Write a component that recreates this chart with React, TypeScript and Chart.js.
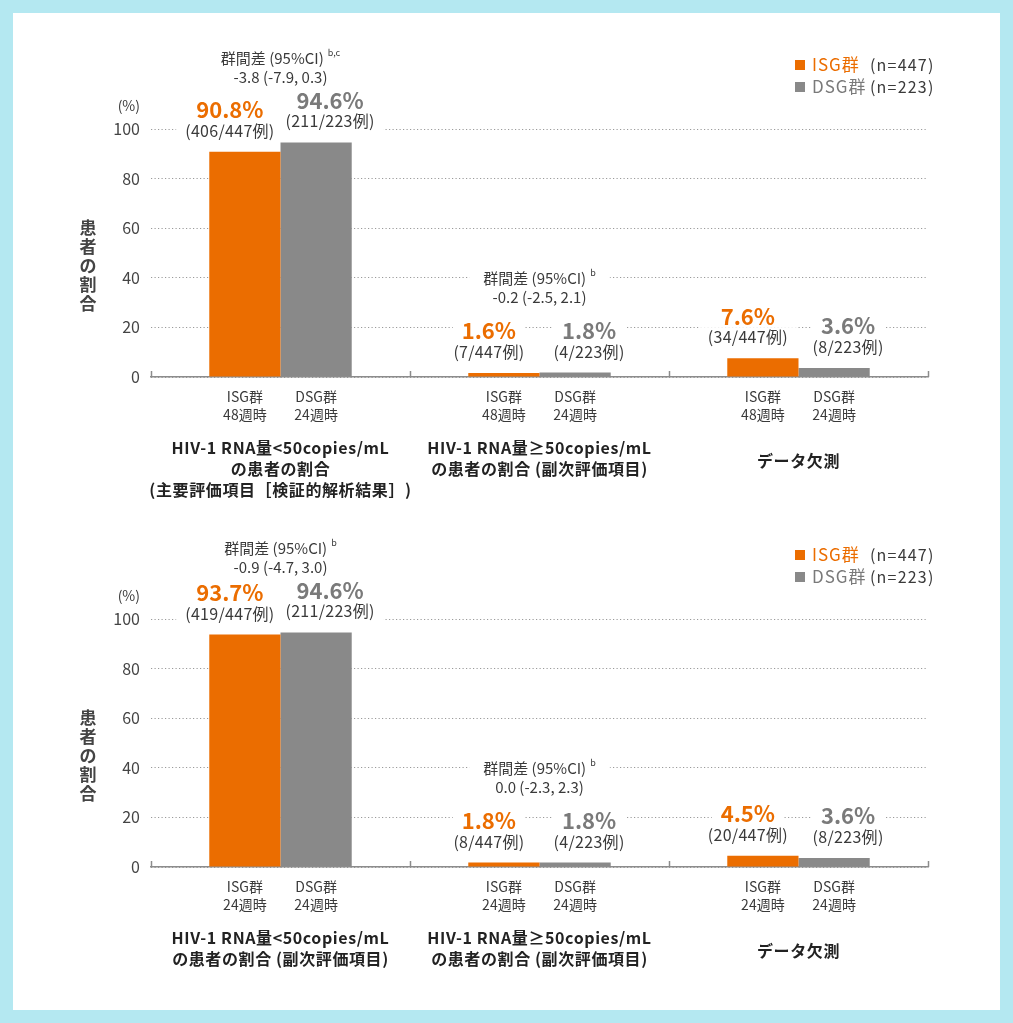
import React, { useEffect, useRef } from 'react';
import { Chart, registerables } from 'chart.js';

Chart.register(...registerables);

// ---------- data ----------
const seriesNames = ['ISG群', 'DSG群'];
const seriesN = ['(n=447)', '(n=223)'];
const yTicks = [0, 20, 40, 60, 80, 100];
const yTitle = '患者の割合';
const yUnit = '(%)';
const diffHeading = '群間差 (95%CI)';

// chart 1
const groups1 = [
  ['HIV-1 RNA量<50copies/mL', 'の患者の割合', '(主要評価項目［検証的解析結果］)'],
  ['HIV-1 RNA量≥50copies/mL', 'の患者の割合 (副次評価項目)'],
  ['データ欠測'],
];
const isg1 = [90.8, 1.6, 7.6];
const dsg1 = [94.6, 1.8, 3.6];
const isgCounts1 = ['(406/447例)', '(7/447例)', '(34/447例)'];
const dsgCounts1 = ['(211/223例)', '(4/223例)', '(8/223例)'];
const diffValues1 = ['-3.8 (-7.9, 0.3)', '-0.2 (-2.5, 2.1)', ''];
const diffSup1 = ['b,c', 'b', ''];
const isgSub1 = ['ISG群', '48週時'];
const dsgSub1 = ['DSG群', '24週時'];

// chart 2
const groups2 = [
  ['HIV-1 RNA量<50copies/mL', 'の患者の割合 (副次評価項目)'],
  ['HIV-1 RNA量≥50copies/mL', 'の患者の割合 (副次評価項目)'],
  ['データ欠測'],
];
const isg2 = [93.7, 1.8, 4.5];
const dsg2 = [94.6, 1.8, 3.6];
const isgCounts2 = ['(419/447例)', '(8/447例)', '(20/447例)'];
const dsgCounts2 = ['(211/223例)', '(4/223例)', '(8/223例)'];
const diffValues2 = ['-0.9 (-4.7, 3.0)', '0.0 (-2.3, 2.3)', ''];
const diffSup2 = ['b', 'b', ''];
const isgSub2 = ['ISG群', '24週時'];
const dsgSub2 = ['DSG群', '24週時'];

// ---------- styles ----------
const FONT = '"Noto Sans CJK JP", "Noto Sans", sans-serif';
const ORANGE = '#eb6d00';
const GRAY = '#898989';
const GRAY_TEXT = '#7a7a7a';
const TEXT = '#3a3a3a';
const AXIS = '#8c8c8c';
const W = 987;
const H = 490;

type BlockProps = {
  groups: string[][];
  isg: number[];
  dsg: number[];
  isgCounts: string[];
  dsgCounts: string[];
  diffValues: string[];
  diffSup: string[];
  isgSub: string[];
  dsgSub: string[];
};

type Item = { s: string; x: number; y: number; font: string; color: string; align: CanvasTextAlign; bg: boolean; ls: number };

function setFont(ctx: CanvasRenderingContext2D, font: string, ls: number) {
  ctx.font = font;
  (ctx as any).letterSpacing = ls + 'px';
}

function ChartBlock(p: BlockProps) {
  const ref = useRef<HTMLCanvasElement | null>(null);
  useEffect(() => {
    const decor = {
      id: 'decor',
      afterDatasetsDraw(chart: any) {
        const ctx: CanvasRenderingContext2D = chart.ctx;
        const area = chart.chartArea;
        const xs = chart.scales.x;
        const m0 = chart.getDatasetMeta(0).data;
        const m1 = chart.getDatasetMeta(1).data;
        const items: Item[] = [];
        const rects: number[][] = [];
        const add = (s: string, x: number, y: number, font: string, color: string, align: CanvasTextAlign = 'center', bg = false, ls = 0) =>
          items.push({ s, x, y, font, color, align, bg, ls });
        ctx.save();
        // category boundary ticks (upward)
        ctx.strokeStyle = AXIS;
        ctx.lineWidth = 1.5;
        const n = p.groups.length;
        for (let i = 0; i <= n; i++) {
          const x = Math.round(xs.left + (i * (xs.right - xs.left)) / n) + 0.5;
          ctx.beginPath();
          ctx.moveTo(x, area.bottom);
          ctx.lineTo(x, area.bottom - 6);
          ctx.stroke();
        }
        for (let i = 0; i < n; i++) {
          const b0 = m0[i];
          const b1 = m1[i];
          const x0 = b0.x - 15;
          const x1 = b1.x + 14;
          add(p.isg[i].toFixed(1) + '%', x0, b0.y - 42, `bold 22px ${FONT}`, ORANGE, 'center', true);
          add(p.isgCounts[i], x0, b0.y - 21, `16px ${FONT}`, TEXT, 'center', true, 0.3);
          add(p.dsg[i].toFixed(1) + '%', x1, b1.y - 42, `bold 22px ${FONT}`, GRAY_TEXT, 'center', true);
          add(p.dsgCounts[i], x1, b1.y - 21, `16px ${FONT}`, TEXT, 'center', true, 0.3);
          if (p.diffValues[i]) {
            const cx = (b0.x + b1.x) / 2;
            const mx = Math.max(p.isg[i], p.dsg[i]);
            const top = Math.min(b0.y, b1.y);
            const vy = top - (mx > 50 ? 65 : 75);
            const hy = vy - 19;
            setFont(ctx, `15px ${FONT}`, 0);
            const wMain = ctx.measureText(diffHeading).width;
            setFont(ctx, `9px ${FONT}`, 0);
            const wSup = ctx.measureText(p.diffSup[i]).width;
            const total = wMain + 4 + wSup;
            const left = cx - total / 2;
            rects.push([left - 14, hy - 10, total + 28, 20]);
            add(diffHeading, left, hy, `15px ${FONT}`, TEXT, 'left');
            add(p.diffSup[i], left + wMain + 4, hy - 6, `9px ${FONT}`, TEXT, 'left');
            add(p.diffValues[i], cx, vy, `15px ${FONT}`, TEXT, 'center', true);
          }
          add(p.isgSub[0], b0.x, area.bottom + 20, `14px ${FONT}`, TEXT);
          add(p.isgSub[1], b0.x, area.bottom + 38, `14px ${FONT}`, TEXT);
          add(p.dsgSub[0], b1.x, area.bottom + 20, `14px ${FONT}`, TEXT);
          add(p.dsgSub[1], b1.x, area.bottom + 38, `14px ${FONT}`, TEXT);
          const gx = xs.getPixelForValue(i);
          const lines = p.groups[i];
          const lh = 21;
          const startY = lines.length === 1 ? area.bottom + 71 + lh * 0.6 : area.bottom + 71;
          lines.forEach((l, k) => add(l, gx, startY + k * lh, `bold 16px ${FONT}`, '#222', 'center', false, 0.6));
        }
        add(yUnit, area.left - 11, area.top - 23, `14px ${FONT}`, TEXT, 'right');
        const chars = Array.from(yTitle);
        const cy = area.top + area.height * 0.55;
        chars.forEach((c, k) => add(c, 75, cy + (k - (chars.length - 1) / 2) * 19, `bold 17px ${FONT}`, '#444'));
        const legY = [52, 74];
        const colors = [ORANGE, GRAY];
        const tcolors = [ORANGE, GRAY_TEXT];
        for (let k = 0; k < 2; k++) {
          ctx.fillStyle = colors[k];
          ctx.fillRect(782, legY[k] - 5, 10, 10);
          add(seriesNames[k], 799, legY[k], `17px ${FONT}`, tcolors[k], 'left', false, 1);
          add(seriesN[k], 857, legY[k], `16px ${FONT}`, TEXT, 'left', false, 1.2);
        }
        // pass 1: white backgrounds
        ctx.fillStyle = '#ffffff';
        rects.forEach((r) => ctx.fillRect(r[0], r[1], r[2], r[3]));
        items.forEach((it) => {
          if (!it.bg) return;
          setFont(ctx, it.font, it.ls);
          const w = ctx.measureText(it.s).width;
          const left = it.align === 'center' ? it.x - w / 2 : it.align === 'left' ? it.x : it.x - w;
          ctx.fillStyle = '#ffffff';
          ctx.fillRect(left - 9, it.y - 10, w + 18, 20);
        });
        // pass 2: texts
        items.forEach((it) => {
          setFont(ctx, it.font, it.ls);
          ctx.textAlign = it.align;
          ctx.textBaseline = 'middle';
          ctx.fillStyle = it.color;
          ctx.fillText(it.s, it.x, it.y);
        });
        ctx.restore();
      },
    };

    const chart = new Chart(ref.current as HTMLCanvasElement, {
      type: 'bar',
      data: {
        labels: p.groups.map((g) => g.join(' ')),
        datasets: [
          { label: seriesNames[0], data: p.isg, backgroundColor: ORANGE, categoryPercentage: 0.55, barPercentage: 1.0 },
          { label: seriesNames[1], data: p.dsg, backgroundColor: GRAY, categoryPercentage: 0.55, barPercentage: 1.0 },
        ],
      },
      options: {
        responsive: false,
        animation: false,
        layout: { padding: { left: 0, right: 72, top: 116, bottom: 0 } },
        plugins: { legend: { display: false }, tooltip: { enabled: false } },
        scales: {
          x: {
            ticks: { display: false },
            grid: { display: false, drawTicks: false },
            border: { display: true, color: AXIS, width: 1.5 },
            afterFit: (s: any) => { s.height = 126; },
          },
          y: {
            min: 0,
            max: 100,
            afterBuildTicks: (s: any) => { s.ticks = yTicks.map((v) => ({ value: v })); },
            ticks: { color: '#444', font: { family: FONT, size: 16 }, padding: 11 },
            grid: { color: '#9a9a9a', lineWidth: 1, drawTicks: false },
            border: { display: false, dash: [1.2, 2.3] },
            afterFit: (s: any) => { s.width = 138; },
          },
        },
      },
      plugins: [decor],
    } as any);
    return () => chart.destroy();
  }, []);
  return <canvas ref={ref} width={W} height={H} style={{ display: 'block', width: W, height: H }} />;
}

export default function App() {
  return (
    <div style={{ position: 'absolute', left: 0, top: 0, width: 1013, height: 1023, background: '#b4e8f1' }}>
      <div style={{ position: 'absolute', left: 13, top: 13, width: 987, height: 997, background: '#ffffff' }}>
        <ChartBlock groups={groups1} isg={isg1} dsg={dsg1} isgCounts={isgCounts1} dsgCounts={dsgCounts1}
          diffValues={diffValues1} diffSup={diffSup1} isgSub={isgSub1} dsgSub={dsgSub1} />
        <ChartBlock groups={groups2} isg={isg2} dsg={dsg2} isgCounts={isgCounts2} dsgCounts={dsgCounts2}
          diffValues={diffValues2} diffSup={diffSup2} isgSub={isgSub2} dsgSub={dsgSub2} />
      </div>
    </div>
  );
}
